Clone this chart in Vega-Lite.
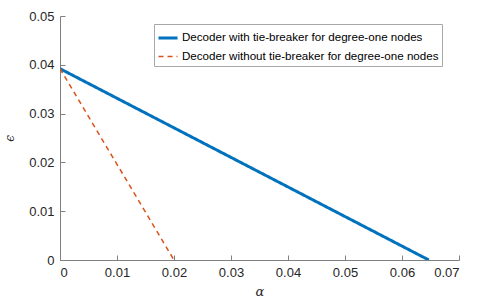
{
  "$schema": "https://vega.github.io/schema/vega-lite/v6.json",
  "autosize": {"type": "none"},
  "width": 399,
  "height": 244,
  "padding": {"left": 60, "top": 16, "right": 26, "bottom": 44},
  "background": "white",
  "config": {
    "view": {"stroke": null},
    "font": "Liberation Sans",
    "legend": {
      "title": null, "orient": "none", "legendX": 94, "legendY": 8,
      "symbolType": "stroke", "symbolSize": 361, "labelFontSize": 11.6, "labelColor": "#000000",
      "strokeColor": "#a8a8a8", "fillColor": "white", "padding": 3, "rowPadding": 2,
      "labelOffset": 3, "labelLimit": 400
    }
  },
  "data": {
    "values": [
      {"series": "Decoder with tie-breaker for degree-one nodes", "alpha": 0.0, "eps": 0.0392},
      {"series": "Decoder with tie-breaker for degree-one nodes", "alpha": 0.0647, "eps": 0.0},
      {"series": "Decoder without tie-breaker for degree-one nodes", "alpha": 0.0, "eps": 0.0392},
      {"series": "Decoder without tie-breaker for degree-one nodes", "alpha": 0.0200, "eps": 0.0}
    ]
  },
  "mark": {"type": "line", "clip": true},
  "encoding": {
    "x": {
      "field": "alpha", "type": "quantitative",
      "scale": {"domain": [0, 0.07], "nice": false, "zero": false},
      "axis": {
        "title": "α", "values": [0, 0.01, 0.02, 0.03, 0.04, 0.05, 0.06, 0.07], "format": "~g",
        "grid": false, "domainColor": "#808080", "tickColor": "#808080", "tickSize": -5,
        "labelPadding": 11, "labelFontSize": 13, "labelColor": "#262626",
        "titleFontSize": 13, "titleFontWeight": "normal", "titleColor": "#262626", "titlePadding": 6,
        "titleFont": "DejaVu Serif", "titleFontStyle": "italic"
      }
    },
    "y": {
      "field": "eps", "type": "quantitative",
      "scale": {"domain": [0, 0.05], "nice": false, "zero": false},
      "axis": {
        "title": "ϵ", "values": [0, 0.01, 0.02, 0.03, 0.04, 0.05], "format": "~g",
        "grid": false, "domainColor": "#808080", "tickColor": "#808080", "tickSize": -5,
        "labelPadding": 11, "labelFontSize": 13, "labelColor": "#262626",
        "titleFontSize": 12, "titleFontWeight": "normal", "titleColor": "#262626", "titlePadding": 12,
        "titleFont": "DejaVu Serif", "titleFontStyle": "italic"
      }
    },
    "color": {
      "field": "series", "type": "nominal",
      "scale": {
        "domain": ["Decoder with tie-breaker for degree-one nodes", "Decoder without tie-breaker for degree-one nodes"],
        "range": ["#0072BD", "#D95319"]
      }
    },
    "strokeDash": {
      "field": "series", "type": "nominal",
      "scale": {
        "domain": ["Decoder with tie-breaker for degree-one nodes", "Decoder without tie-breaker for degree-one nodes"],
        "range": [[1, 0], [5, 4]]
      }
    },
    "strokeWidth": {
      "field": "series", "type": "nominal",
      "scale": {
        "domain": ["Decoder with tie-breaker for degree-one nodes", "Decoder without tie-breaker for degree-one nodes"],
        "range": [3, 1.5]
      }
    }
  }
}
